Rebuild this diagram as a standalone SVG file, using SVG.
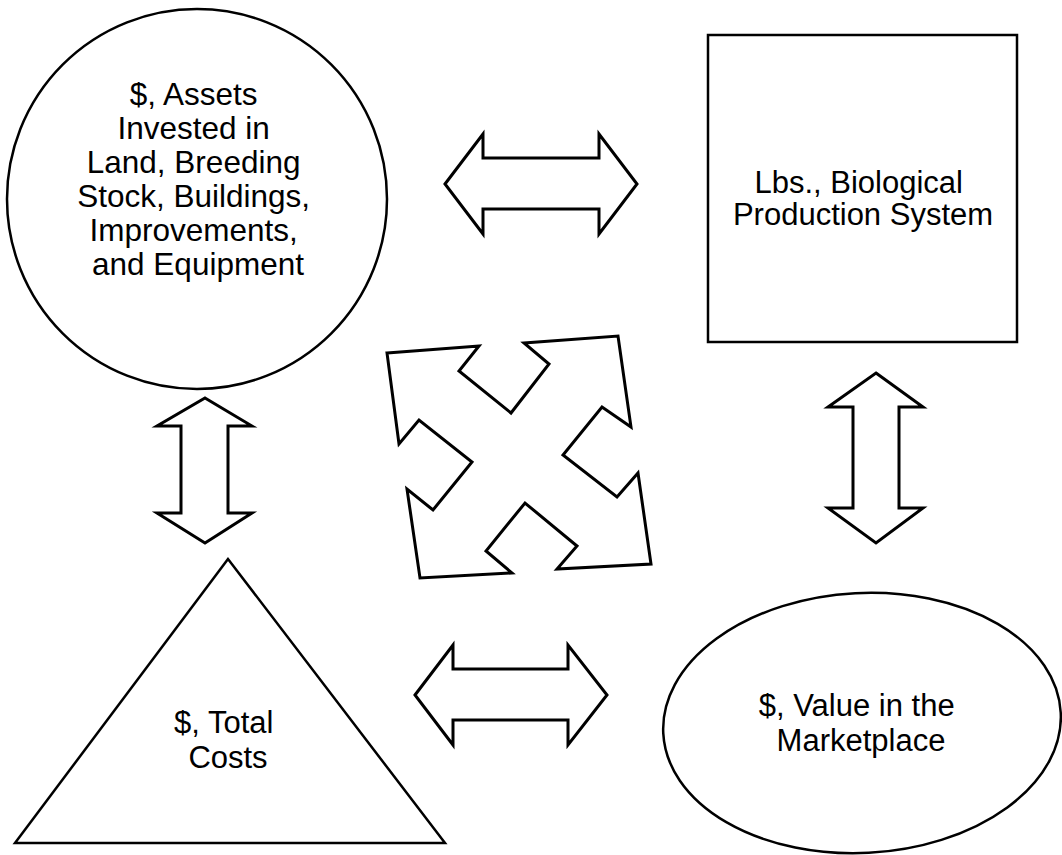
<svg xmlns="http://www.w3.org/2000/svg" width="1062" height="855" viewBox="0 0 1062 855">
<style>
.shape{fill:#fff;stroke:#000;stroke-width:2.5}
.arrow{fill:#fff;stroke:#000;stroke-width:3;stroke-linejoin:miter}
.lbl{font-family:"Liberation Sans",Arial,Helvetica,sans-serif;font-size:31px;fill:#000;text-anchor:middle}
</style>
<rect width="1062" height="855" fill="#fff"/>
<g id="assets">
<circle class="shape" cx="197" cy="199" r="190"/>
<text class="lbl" style="font-size:31.5px">
<tspan x="198" y="105">$, Assets</tspan>
<tspan x="198" y="139">Invested in</tspan>
<tspan x="198" y="173">Land, Breeding</tspan>
<tspan x="198" y="207">Stock, Buildings,</tspan>
<tspan x="198" y="241">Improvements,</tspan>
<tspan x="198" y="275">and Equipment</tspan>
</text>
</g>
<g id="production">
<rect class="shape" x="708" y="35" width="309" height="307"/>
<text class="lbl">
<tspan x="863" y="193">Lbs., Biological</tspan>
<tspan x="863" y="225">Production System</tspan>
</text>
</g>
<g id="costs">
<polygon class="shape" points="228,559 15,843 445,843"/>
<text class="lbl">
<tspan x="228" y="733">$, Total</tspan>
<tspan x="228" y="768">Costs</tspan>
</text>
</g>
<g id="value">
<ellipse class="shape" cx="862" cy="723" rx="199" ry="130" transform="rotate(-3 862 723)"/>
<text class="lbl">
<tspan x="861" y="716">$, Value in the</tspan>
<tspan x="861" y="751">Marketplace</tspan>
</text>
</g>
<g id="connectors">
<polygon class="arrow" points="445,184 483,134 483,158 599,158 599,134 637,184 599,234 599,209 483,209 483,234"/>
<polygon class="arrow" points="415,695 453,645 453,669 568,669 568,645 607,695 568,745 568,720 453,720 453,745"/>
<polygon class="arrow" points="205,398 252,426 228,426 228,513 252,513 205,543 157,513 181,513 181,426 157,426"/>
<polygon class="arrow" points="876,373 923,407 899,407 899,508 923,508 876,543 828,508 853,508 853,407 828,407"/>
<polygon class="arrow" points="387,353 479,346 459,371 511,413 549,364 524,343 618,336 631,427 602,407 563,455 617,497 638,473 651,564 557,569 577,546 525,503 486,551 512,573 420,578 407,489 433,510 472,462 419,420 399,444"/>
</g>
</svg>
